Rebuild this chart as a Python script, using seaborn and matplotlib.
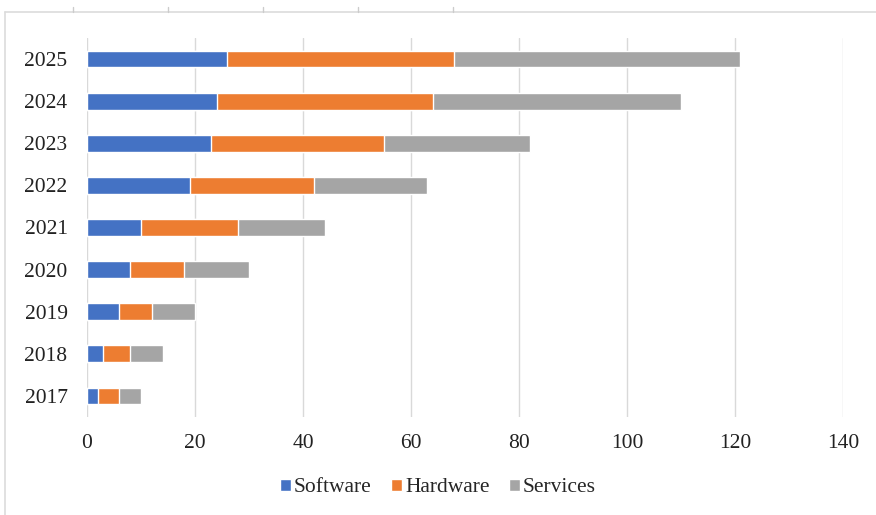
import pandas as pd
import matplotlib.pyplot as plt
import seaborn as sns
from matplotlib.patches import Patch
from matplotlib.lines import Line2D

# values, one list per series
years = ['2017', '2018', '2019', '2020', '2021', '2022', '2023', '2024', '2025']
software = [2, 3, 6, 8, 10, 19, 23, 24, 26]
hardware = [4, 5, 6, 10, 18, 23, 32, 40, 42]
services = [4, 6, 8, 12, 16, 21, 27, 46, 53]
x_ticks = [0, 20, 40, 60, 80, 100, 120, 140]

colors = {'Software': '#4472C4', 'Hardware': '#ED7D31', 'Services': '#A5A5A5'}

df = pd.DataFrame({'year': years, 'Software': software,
                   'Hardware': hardware, 'Services': services})
# running totals so the bars can be drawn on top of each other
df['sw_end'] = df['Software']
df['hw_end'] = df['Software'] + df['Hardware']
df['sv_end'] = df['hw_end'] + df['Services']

sns.set_style('white')
plt.rcParams['font.family'] = ['Liberation Serif', 'DejaVu Serif']

fig = plt.figure(figsize=(8.76, 5.15), dpi=100)
ax = fig.add_axes([87 / 876, 1 - 417 / 515, (843 - 87) / 876, (417 - 38) / 515])

order = years[::-1]
sns.barplot(data=df, x='sv_end', y='year', order=order, color=colors['Services'],
            width=0.4, saturation=1, ax=ax)
sns.barplot(data=df, x='hw_end', y='year', order=order, color=colors['Hardware'],
            width=0.4, saturation=1, ax=ax)
sns.barplot(data=df, x='sw_end', y='year', order=order, color=colors['Software'],
            width=0.4, saturation=1, ax=ax)

ax.set_xlim(0, 140)
ax.set_ylim(len(years) - 0.5, -0.5)
ax.set_xticks(x_ticks)
ax.set_xticklabels([str(t) for t in x_ticks])
ax.xaxis.grid(True, color='#d9d9d9', linewidth=1)
ax.set_axisbelow(True)
for s in ax.spines.values():
    s.set_visible(False)
ax.tick_params(axis='both', length=0, labelsize=15.5, colors='#222222')
ax.tick_params(axis='y', pad=14)
ax.tick_params(axis='x', pad=12)
ax.set_xlabel('')
ax.set_ylabel('')

handles = [Patch(facecolor=colors[k], label=k) for k in ['Software', 'Hardware', 'Services']]
fig.legend(handles=handles, loc='center', bbox_to_anchor=(0.5, 1 - 488 / 515), ncol=3,
           frameon=False, fontsize=15.5, handlelength=0.5, handleheight=0.5,
           handletextpad=0.15, columnspacing=0.9)

# light frame from the screenshot edge
fig.add_artist(Line2D([5 / 876, 1], [1 - 12 / 515, 1 - 12 / 515], color='#dcdcdc', lw=1.2))
fig.add_artist(Line2D([5 / 876, 5 / 876], [0, 1 - 12 / 515], color='#dcdcdc', lw=1.2))
for px in [73, 168, 263, 358, 453]:
    fig.add_artist(Line2D([px / 876, px / 876], [1 - 12 / 515, 1 - 7 / 515], color='#cccccc', lw=1))

fig.savefig('out.png', dpi=100)
